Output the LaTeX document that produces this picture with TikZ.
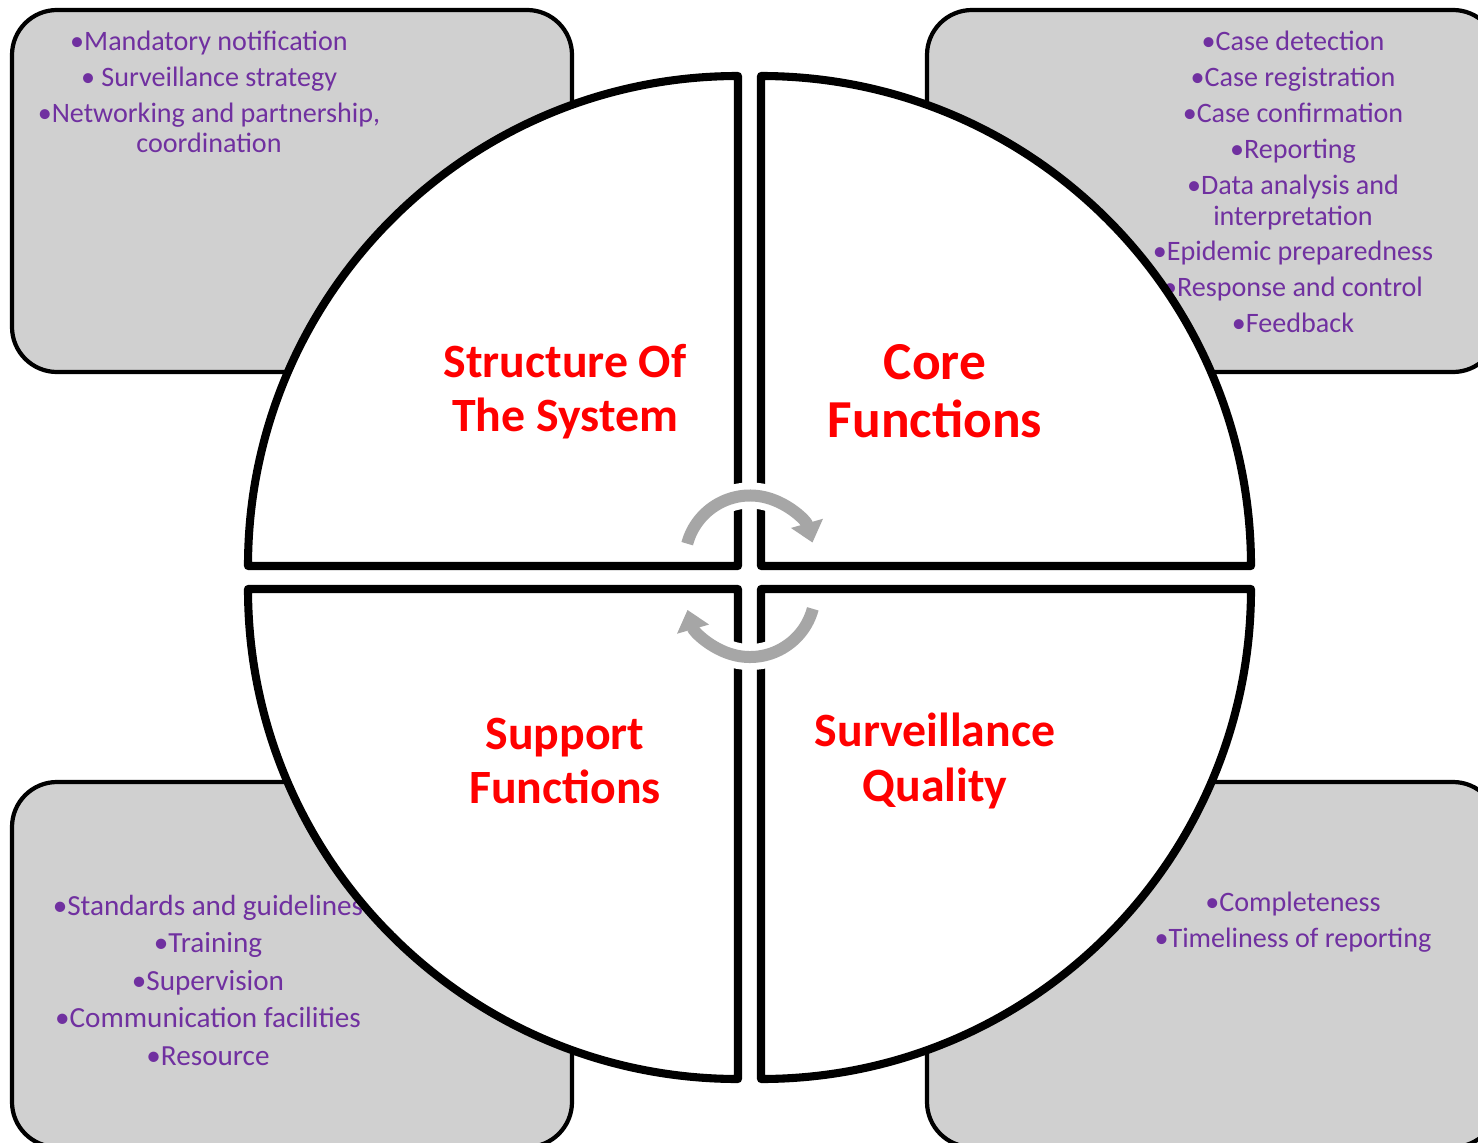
\documentclass[tikz,border=0pt]{standalone}
\usepackage{fontspec}
\setmainfont{Carlito}
\usetikzlibrary{arrows.meta}
\definecolor{listpurple}{HTML}{7030A0}
\definecolor{boxgray}{HTML}{D0D0D0}
\definecolor{cyclegray}{HTML}{A6A6A6}

\begin{document}
\begin{tikzpicture}[
        sidebox/.style = {draw=black, line width=1.2pt, fill=boxgray, rounded corners=0.45cm},
        quarter/.style = {draw=black, line width=2.3pt, fill=white, line join=round},
        itemtext/.style = {text=listpurple, align=center, font=\fontsize{8.0}{10.2}\selectfont},
        titletext/.style = {text=red, align=center, font=\bfseries\fontsize{13.6}{15.4}\selectfont},
        cyclewhite/.style = {white, line width=0.26cm, -{Triangle[width=0.52cm,length=0.32cm]}},
        cyclearrow/.style = {cyclegray, line width=0.12cm, -{Triangle[width=0.32cm,length=0.2cm]}}
    ]
        \useasboundingbox (0,0) rectangle (14.78,11.42);
        % grey boxes behind the circle
        \draw[sidebox] (0.12,7.70) rectangle (5.72,11.32);
        \draw[sidebox] (9.27,7.70) rectangle (14.98,11.32);
        \draw[sidebox] (0.12,-0.05) rectangle (5.72,3.60);
        \draw[sidebox] (9.27,-0.05) rectangle (14.98,3.60);
        \node[itemtext] (structlist) at (2.09,10.50) {%
            •Mandatory notification\\
            • Surveillance strategy\\
            •Networking and partnership,\\[-1.4pt]
            coordination};
        \node[itemtext] (corelist) at (12.93,9.60) {%
            •Case detection\\
            •Case registration\\
            •Case confirmation\\
            •Reporting\\
            •Data analysis and\\[-1.4pt]
            interpretation\\
            •Epidemic preparedness\\
            •Response and control\\
            •Feedback};
        \node[itemtext, font=\fontsize{8.3}{10.67}\selectfont] (supportlist) at (2.08,1.62) {%
            •Standards and guidelines\\
            •Training\\
            •Supervision\\
            •Communication facilities\\
            •Resource};
        \node[itemtext] (qualitylist) at (12.93,2.20) {%
            •Completeness\\
            •Timeliness of reporting};
        % four quarters of the circle
        \draw[quarter] (7.38,5.76) -- (2.48,5.76) arc[start angle=180, end angle=90, radius=4.9] -- cycle;
        \draw[quarter] (7.61,5.76) -- (7.61,10.66) arc[start angle=90, end angle=0, radius=4.9] -- cycle;
        \draw[quarter] (7.38,5.53) -- (7.38,0.63) arc[start angle=270, end angle=180, radius=4.9] -- cycle;
        \draw[quarter] (7.61,5.53) -- (12.51,5.53) arc[start angle=0, end angle=-90, radius=4.9] -- cycle;
        \node[titletext] (structure) at (5.65,7.50) {Structure Of\\The System};
        \node[titletext, font=\bfseries\fontsize{15.2}{16.5}\selectfont] (core) at (9.35,7.51) {Core\\Functions};
        \node[titletext] (support) at (5.65,3.81) {Support\\Functions};
        \node[titletext] (quality) at (9.35,3.81) {Surveillance\\Quality};
        % cycle arrows in the middle
        \draw[cyclewhite] ([shift={(170:0.65)}]7.5,5.815) arc[start angle=170, end angle=10, radius=0.65];
        \draw[cyclearrow] ([shift={(165:0.65)}]7.5,5.815) arc[start angle=165, end angle=16, radius=0.65];
        \draw[cyclewhite] ([shift={(-10:0.65)}]7.5,5.50) arc[start angle=-10, end angle=-170, radius=0.65];
        \draw[cyclearrow] ([shift={(-15:0.65)}]7.5,5.50) arc[start angle=-15, end angle=-164, radius=0.65];
\end{tikzpicture}
\end{document}
